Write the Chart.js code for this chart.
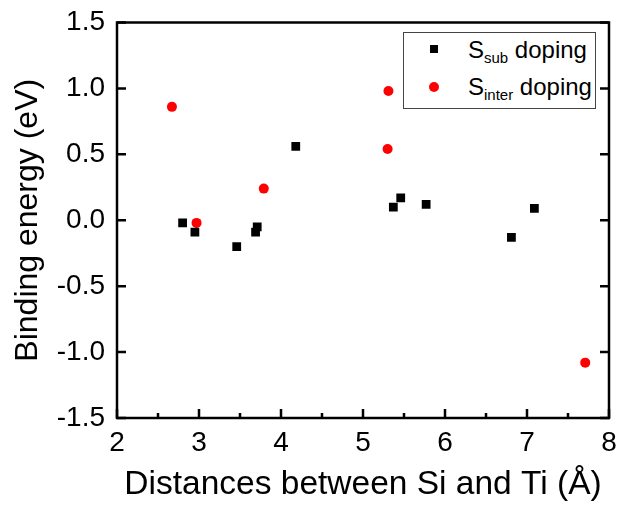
<!DOCTYPE html>
<html>
<head>
<meta charset="utf-8">
<script src="https://cdn.jsdelivr.net/npm/chart.js@4.4.1/dist/chart.umd.min.js"></script>
<style>
  body { margin: 0; background: #fff; }
  #wrap { position: relative; width: 618px; height: 505px; }
  #legend {
    position: absolute; left: 403px; top: 32px; width: 191px; height: 75px;
    border: 1px solid #444; background: #fff;
    font-family: "Liberation Sans", Arial, sans-serif; color: #000;
  }
  .row { position: absolute; left: 64px; font-size: 24px; line-height: 24px; white-space: nowrap; }
  .row sub { font-size: 15px; vertical-align: -5px; line-height: 0; }
  .mk { position: absolute; }
</style>
</head>
<body>
<div id="wrap">
  <canvas id="chart" width="618" height="505"></canvas>
  <div id="legend">
    <div class="mk" style="left:26px;top:12px;width:8px;height:8px;background:#000;"></div>
    <div class="row" style="top:5px;">S<sub>sub</sub> doping</div>
    <div class="mk" style="left:25px;top:49px;width:10px;height:10px;border-radius:50%;background:#f00;"></div>
    <div class="row" style="top:42px;">S<sub>inter</sub> doping</div>
  </div>
</div>
<script>
// S_sub doping
const subDist = [2.80, 2.95, 3.46, 3.69, 3.71, 4.18, 5.37, 5.46, 5.77, 6.81, 7.09];
const subEnergy = [-0.02, -0.09, -0.20, -0.09, -0.05, 0.56, 0.10, 0.17, 0.12, -0.13, 0.09];

// S_inter doping
const interDist = [2.67, 2.97, 3.79, 5.30, 5.31, 7.71];
const interEnergy = [0.86, -0.02, 0.24, 0.54, 0.98, -1.08];

const xTicks = [2, 3, 4, 5, 6, 7, 8];
const yTicks = [-1.5, -1.0, -0.5, 0.0, 0.5, 1.0, 1.5];

const FONT = '"Liberation Sans", Arial, sans-serif';

function toPoints(xs, ys) {
    return xs.map((x, i) => ({ x: x, y: ys[i] }));
}

// keep the plot box where the layout padding puts it
function noScalePadding(s) {
    s.paddingTop = 0;
    s.paddingBottom = 0;
    s.paddingLeft = 0;
    s.paddingRight = 0;
}

// frame + inward ticks like the original plot
const frameTicks = {
    id: 'frameTicks',
    afterDatasetsDraw(chart) {
        const ctx = chart.ctx;
        const a = chart.chartArea;
        const xs = chart.scales.x;
        const ys = chart.scales.y;
        ctx.save();
        ctx.strokeStyle = '#000';
        ctx.lineWidth = 2.5;
        ctx.strokeRect(a.left, a.top, a.right - a.left, a.bottom - a.top);
        ctx.beginPath();
        xTicks.forEach(v => {
            const px = xs.getPixelForValue(v);
            ctx.moveTo(px, a.bottom);
            ctx.lineTo(px, a.bottom - 9);
            if (v < xTicks[xTicks.length - 1]) {
                const pm = xs.getPixelForValue(v + 0.5);
                ctx.moveTo(pm, a.bottom);
                ctx.lineTo(pm, a.bottom - 5);
            }
        });
        yTicks.forEach(v => {
            const py = ys.getPixelForValue(v);
            ctx.moveTo(a.left, py);
            ctx.lineTo(a.left + 9, py);
            ctx.moveTo(a.right, py);
            ctx.lineTo(a.right - 9, py);
        });
        ctx.stroke();
        ctx.restore();
    }
};

new Chart(document.getElementById('chart'), {
    type: 'scatter',
    data: {
        datasets: [{
            label: 'S_sub doping',
            data: toPoints(subDist, subEnergy),
            pointStyle: 'rect',
            pointRadius: 6.2,
            pointHoverRadius: 6.2,
            pointBorderWidth: 0,
            backgroundColor: '#000',
            borderColor: '#000'
        }, {
            label: 'S_inter doping',
            data: toPoints(interDist, interEnergy),
            pointStyle: 'circle',
            pointRadius: 5,
            pointHoverRadius: 5,
            pointBorderWidth: 0,
            backgroundColor: '#ff0000',
            borderColor: '#ff0000'
        }]
    },
    options: {
        responsive: false,
        animation: false,
        devicePixelRatio: 1,
        layout: {
            padding: { top: 22.5, right: 9, left: 0, bottom: 0 }
        },
        plugins: {
            legend: { display: false },
            tooltip: { enabled: false }
        },
        scales: {
            x: {
                type: 'linear',
                min: 2,
                max: 8,
                afterFit: s => { s.height = 87; noScalePadding(s); },
                afterBuildTicks: s => { s.ticks = xTicks.map(v => ({ value: v })); },
                grid: { display: false, drawTicks: false },
                border: { display: false },
                ticks: {
                    padding: 8,
                    color: '#000',
                    font: { family: FONT, size: 28 },
                    callback: v => String(v)
                },
                title: {
                    display: true,
                    text: 'Distances between Si and Ti (Å)',
                    color: '#000',
                    font: { family: FONT, size: 33.5 },
                    padding: { top: 0, bottom: 0 }
                }
            },
            y: {
                type: 'linear',
                min: -1.5,
                max: 1.5,
                afterFit: s => { s.width = 117; noScalePadding(s); },
                afterBuildTicks: s => { s.ticks = yTicks.map(v => ({ value: v })); },
                grid: { display: false, drawTicks: false },
                border: { display: false },
                ticks: {
                    padding: 12,
                    color: '#000',
                    font: { family: FONT, size: 28 },
                    callback: v => Number(v).toFixed(1)
                },
                title: {
                    display: true,
                    text: 'Binding energy (eV)',
                    color: '#000',
                    font: { family: FONT, size: 32 },
                    padding: { top: 9, bottom: 0 }
                }
            }
        }
    },
    plugins: [frameTicks]
});
</script>
</body>
</html>
